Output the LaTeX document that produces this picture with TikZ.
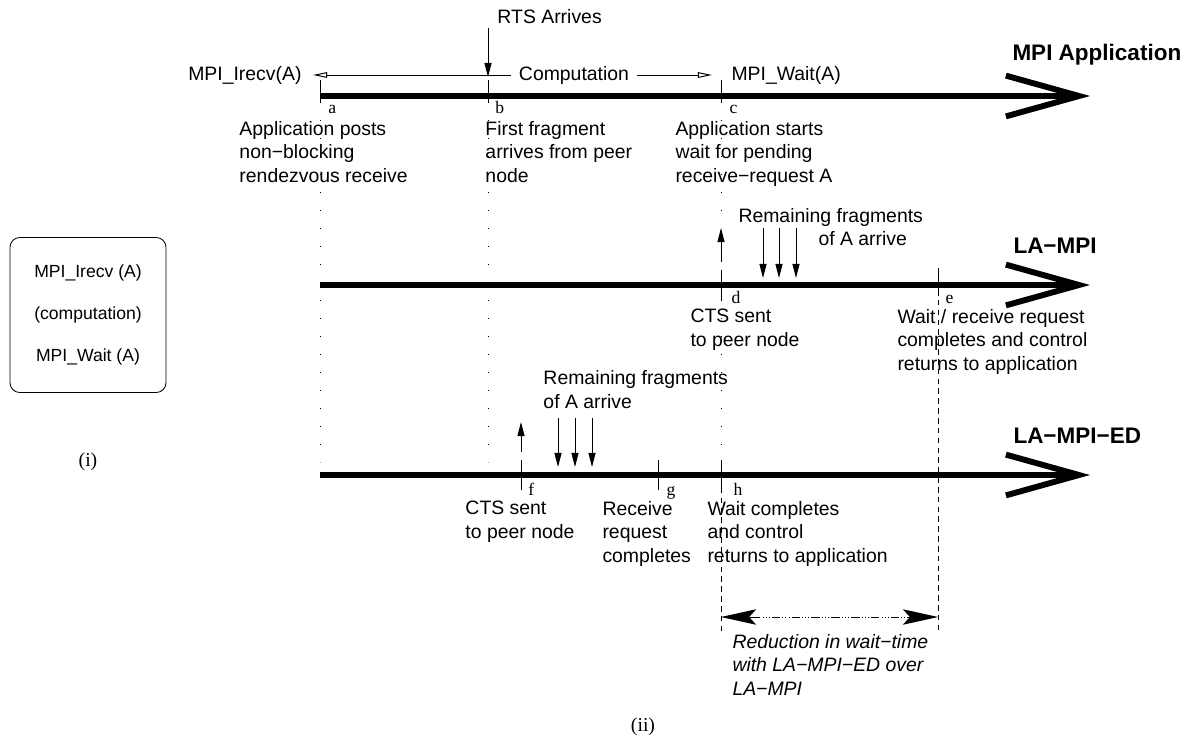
\documentclass[tikz,border=0pt]{standalone}
\usepackage{fontspec}
\setmainfont{Liberation Sans}
\newfontfamily\tms{Liberation Serif}
\usetikzlibrary{arrows.meta}

\begin{document}
\begin{tikzpicture}[x=0.025cm, y=-0.025cm, line width=0.7pt,
  > = {Triangle[length=10pt, width=5pt]},
  every node/.style={inner sep=0pt},
  txt/.style={font=\fontsize{13.8}{16.7}\selectfont, align=left, anchor=base west},
  ttl/.style={font=\fontsize{16}{18}\selectfont\bfseries, anchor=base west},
  tklab/.style={font=\tms\fontsize{12.5}{14}\selectfont, anchor=base west},
  axis/.style={line width=4.2pt, -{Straight Barb[length=52pt, width=29pt]}},
  guide/.style={dash pattern=on 0.8pt off 12pt},
  dashln/.style={dash pattern=on 4pt off 3pt},
  gainln/.style={dash pattern=on 6pt off 1.5pt on 0.7pt off 1.5pt on 0.7pt off 1.5pt on 0.7pt off 1.5pt},
  gaintip/.style={-{Stealth[length=25pt, width=11pt, inset=5pt]}},
  comparrow/.style={-{Triangle[open, length=10pt, width=4pt]}}]
\useasboundingbox (0,0) rectangle (1190,745);

% guide lines
\draw[guide] (320,102) -- (320,462);
\draw[guide] (488,102) -- (488,462);
\draw[guide] (721,102) -- (721,226);
\draw[guide] (721,300) -- (721,458);
\draw[dashln] (721,478) -- (721,632);
\draw[dashln] (938,290) -- (938,632);

% time lines
\coordinate (app0) at (320,96);  \coordinate (app1) at (1090,96);
\coordinate (la0) at (320,285);  \coordinate (la1) at (1090,285);
\coordinate (ed0) at (320,475);  \coordinate (ed1) at (1090,475);
\draw[axis] (app0) -- (app1);
\draw[axis] (la0) -- (la1);
\draw[axis] (ed0) -- (ed1);
\node[ttl] (tapp) at (1012,60) {MPI Application};
\node[ttl] (tla) at (1013,253) {LA−MPI};
\node[ttl] (ted) at (1013,443) {LA−MPI−ED};

% ticks
\foreach \x in {320,488,721} \draw (\x,80) -- (\x,102);
\draw (721,270) -- (721,300);
\draw (938,268) -- (938,292);
\foreach \x in {521,658,721} \draw (\x,460) -- (\x,490);
\node[tklab] (ta) at (328,113) {a};
\node[tklab] (tb) at (495,113) {b};
\node[tklab] (tc) at (729,113) {c};
\node[tklab] (td) at (731,303) {d};
\node[tklab] (te) at (945,303) {e};
\node[tklab] (tf) at (528,495) {f};
\node[tklab] (tg) at (666,495) {g};
\node[tklab] (th) at (733,495) {h};

% MPI application
\node[txt] (rts) at (497,23) {RTS Arrives};
\coordinate (rts0) at (488,28); \coordinate (rts1) at (488,77);
\draw[->] (rts0) -- (rts1);
\node[txt, anchor=base east] (irecv) at (302,80) {MPI\_Irecv(A)};
\node[txt] (wait) at (731,80) {MPI\_Wait(A)};
\node[font=\fontsize{13.8}{16.7}\selectfont, inner xsep=5pt] (comp) at (574,75) {Computation};
\coordinate (cl) at (313,75); \coordinate (cr) at (712,75);
\draw[comparrow] (comp.west) -- (cl);
\draw[comparrow] (comp.east) -- (cr);
\node[txt] (posts) at (239,182) {Application posts\\non−blocking\\rendezvous receive};
\node[txt] (first) at (485,182) {First fragment\\arrives from peer\\node};
\node[txt] (starts) at (675,182) {Application starts\\wait for pending\\receive−request A};

% LA-MPI
\coordinate (cts0) at (721,262); \coordinate (cts1) at (721,228);
\draw[->] (cts0) -- (cts1);
\foreach \x [count=\i] in {763,779,796} {
  \coordinate (fa\i) at (\x,228); \coordinate (fb\i) at (\x,278);
  \draw[->] (fa\i) -- (fb\i);
}
\node[txt] (rem1) at (738,222) {Remaining fragments};
\node[txt] (rem2) at (818,245) {of A arrive};
\node[txt] (cts) at (690,346) {CTS sent\\to peer node};
\node[txt] (done) at (897,370) {Wait / receive request\\completes and control\\returns to application};

% LA-MPI-ED
\coordinate (ects0) at (521,452); \coordinate (ects1) at (521,422);
\draw[->] (ects0) -- (ects1);
\foreach \x [count=\i] in {558,575,592} {
  \coordinate (ea\i) at (\x,418); \coordinate (eb\i) at (\x,467);
  \draw[->] (ea\i) -- (eb\i);
}
\node[txt] (erem) at (543,408) {Remaining fragments\\of A arrive};
\node[txt] (ects) at (465,538) {CTS sent\\to peer node};
\node[txt] (erecv) at (602,562) {Receive\\request\\completes};
\node[txt] (edone) at (707,562) {Wait completes\\and control\\returns to application};

% gain
\coordinate (gl) at (721,617); \coordinate (gr) at (938,617);
\coordinate (gl2) at (752,617); \coordinate (gr2) at (907,617);
\draw[gainln] (gl2) -- (gr2);
\draw[gaintip] (gl2) -- (gl);
\draw[gaintip] (gr2) -- (gr);
\node[txt, font=\fontsize{13.8}{16.7}\selectfont\itshape] (gain) at (732,695) {Reduction in wait−time\\with LA−MPI−ED over\\LA−MPI};

% code box
\node[draw, line width=0.6pt, rounded corners=7pt, minimum width=3.9cm, minimum height=3.875cm,
  align=center, font=\fontsize{12.5}{30}\selectfont] (code) at (88,315) {MPI\_Irecv (A)\\(computation)\\MPI\_Wait (A)};
\node[font=\tms\fontsize{14}{16}\selectfont] (i) at (88,462) {(i)};
\node[font=\tms\fontsize{14}{16}\selectfont] (ii) at (643,727) {(ii)};
\end{tikzpicture}
\end{document}
